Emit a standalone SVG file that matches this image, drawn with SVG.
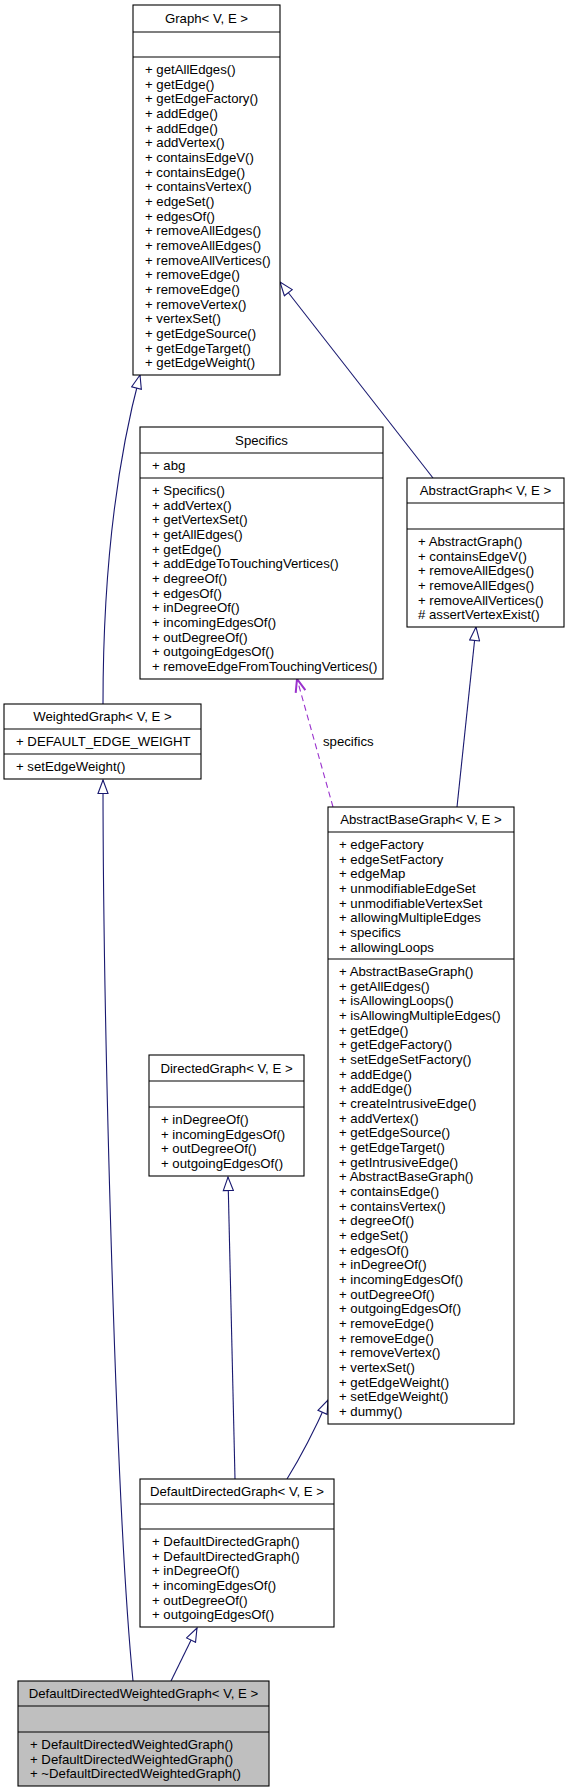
<svg xmlns="http://www.w3.org/2000/svg" width="568" height="1792" viewBox="0 0 568 1792">
<style>
  text { font-family: "Liberation Sans", Arial, sans-serif; font-size: 13.2px; fill: #000; }
  .t { text-anchor: middle; }
  .box { fill: #fff; stroke: #000; stroke-width: 1.1; }
  .cur { fill: #bfbfbf; stroke: #000; stroke-width: 1.1; }
  .sep { stroke: #000; stroke-width: 1.1; }
  .inh { fill: none; stroke: #191970; stroke-width: 1.1; marker-end: url(#tri); }
  .use { fill: none; stroke: #9a32cd; stroke-width: 1.1; stroke-dasharray: 6,4; marker-end: url(#vee); }
</style>
<defs>
  <marker id="tri" markerUnits="userSpaceOnUse" viewBox="-1 -1 16 12" markerWidth="16" markerHeight="12" refX="13.5" refY="5" orient="auto">
    <path d="M0,0 L13.5,5 L0,10 Z" fill="#fff" stroke="#191970" stroke-width="1.1"/>
  </marker>
  <marker id="vee" markerUnits="userSpaceOnUse" viewBox="-2 -2 18 14" markerWidth="18" markerHeight="14" refX="13" refY="5" orient="auto">
    <path d="M0,0 L13,5 L0,10" fill="none" stroke="#9a32cd" stroke-width="2"/>
  </marker>
</defs>

<g id="connectors">
  <path class="inh" d="M103,704 C103,600 112,480 140,375"/>
  <path class="inh" d="M433,478 L280,282"/>
  <path class="inh" d="M457,807 L476,627"/>
  <path class="use" d="M333,807 L297,679"/>
  <text x="323" y="746">specifics</text>
  <path class="inh" d="M287,1479 Q308,1445 328,1400"/>
  <path class="inh" d="M235,1479 L228,1177"/>
  <path class="inh" d="M171,1681 L197,1628"/>
  <path class="inh" d="M133,1681 C115,1500 103,1000 103,780"/>
</g>

<g id="Graph">
  <rect class="box" x="133" y="5" width="147" height="370"/>
  <line class="sep" x1="133" y1="32" x2="280" y2="32"/>
  <line class="sep" x1="133" y1="57" x2="280" y2="57"/>
  <text class="t" x="206.5" y="23.1">Graph&lt; V, E &gt;</text>
  <text x="145" y="59.2">
    <tspan x="145" dy="14.67">+ getAllEdges()</tspan>
    <tspan x="145" dy="14.67">+ getEdge()</tspan>
    <tspan x="145" dy="14.67">+ getEdgeFactory()</tspan>
    <tspan x="145" dy="14.67">+ addEdge()</tspan>
    <tspan x="145" dy="14.67">+ addEdge()</tspan>
    <tspan x="145" dy="14.67">+ addVertex()</tspan>
    <tspan x="145" dy="14.67">+ containsEdgeV()</tspan>
    <tspan x="145" dy="14.67">+ containsEdge()</tspan>
    <tspan x="145" dy="14.67">+ containsVertex()</tspan>
    <tspan x="145" dy="14.67">+ edgeSet()</tspan>
    <tspan x="145" dy="14.67">+ edgesOf()</tspan>
    <tspan x="145" dy="14.67">+ removeAllEdges()</tspan>
    <tspan x="145" dy="14.67">+ removeAllEdges()</tspan>
    <tspan x="145" dy="14.67">+ removeAllVertices()</tspan>
    <tspan x="145" dy="14.67">+ removeEdge()</tspan>
    <tspan x="145" dy="14.67">+ removeEdge()</tspan>
    <tspan x="145" dy="14.67">+ removeVertex()</tspan>
    <tspan x="145" dy="14.67">+ vertexSet()</tspan>
    <tspan x="145" dy="14.67">+ getEdgeSource()</tspan>
    <tspan x="145" dy="14.67">+ getEdgeTarget()</tspan>
    <tspan x="145" dy="14.67">+ getEdgeWeight()</tspan>
  </text>
</g>

<g id="Specifics">
  <rect class="box" x="140" y="427" width="243" height="252"/>
  <line class="sep" x1="140" y1="453" x2="383" y2="453"/>
  <line class="sep" x1="140" y1="478" x2="383" y2="478"/>
  <text class="t" x="261.5" y="444.6">Specifics</text>
  <text x="152" y="470">+ abg</text>
  <text x="152" y="480.3">
    <tspan x="152" dy="14.67">+ Specifics()</tspan>
    <tspan x="152" dy="14.67">+ addVertex()</tspan>
    <tspan x="152" dy="14.67">+ getVertexSet()</tspan>
    <tspan x="152" dy="14.67">+ getAllEdges()</tspan>
    <tspan x="152" dy="14.67">+ getEdge()</tspan>
    <tspan x="152" dy="14.67">+ addEdgeToTouchingVertices()</tspan>
    <tspan x="152" dy="14.67">+ degreeOf()</tspan>
    <tspan x="152" dy="14.67">+ edgesOf()</tspan>
    <tspan x="152" dy="14.67">+ inDegreeOf()</tspan>
    <tspan x="152" dy="14.67">+ incomingEdgesOf()</tspan>
    <tspan x="152" dy="14.67">+ outDegreeOf()</tspan>
    <tspan x="152" dy="14.67">+ outgoingEdgesOf()</tspan>
    <tspan x="152" dy="14.67">+ removeEdgeFromTouchingVertices()</tspan>
  </text>
</g>

<g id="AbstractGraph">
  <rect class="box" x="407" y="478" width="157" height="149"/>
  <line class="sep" x1="407" y1="503" x2="564" y2="503"/>
  <line class="sep" x1="407" y1="529" x2="564" y2="529"/>
  <text class="t" x="485.5" y="495.1">AbstractGraph&lt; V, E &gt;</text>
  <text x="418" y="531.2">
    <tspan x="418" dy="14.67">+ AbstractGraph()</tspan>
    <tspan x="418" dy="14.67">+ containsEdgeV()</tspan>
    <tspan x="418" dy="14.67">+ removeAllEdges()</tspan>
    <tspan x="418" dy="14.67">+ removeAllEdges()</tspan>
    <tspan x="418" dy="14.67">+ removeAllVertices()</tspan>
    <tspan x="418" dy="14.67"># assertVertexExist()</tspan>
  </text>
</g>

<g id="WeightedGraph">
  <rect class="box" x="4" y="704" width="197" height="75"/>
  <line class="sep" x1="4" y1="729" x2="201" y2="729"/>
  <line class="sep" x1="4" y1="754" x2="201" y2="754"/>
  <text class="t" x="102.5" y="721.1">WeightedGraph&lt; V, E &gt;</text>
  <text x="16" y="745.9">+ DEFAULT_EDGE_WEIGHT</text>
  <text x="16" y="770.9">+ setEdgeWeight()</text>
</g>

<g id="AbstractBaseGraph">
  <rect class="box" x="328" y="807" width="186" height="617"/>
  <line class="sep" x1="328" y1="832" x2="514" y2="832"/>
  <line class="sep" x1="328" y1="959" x2="514" y2="959"/>
  <text class="t" x="421" y="824.1">AbstractBaseGraph&lt; V, E &gt;</text>
  <text x="339" y="834.2">
    <tspan x="339" dy="14.67">+ edgeFactory</tspan>
    <tspan x="339" dy="14.67">+ edgeSetFactory</tspan>
    <tspan x="339" dy="14.67">+ edgeMap</tspan>
    <tspan x="339" dy="14.67">+ unmodifiableEdgeSet</tspan>
    <tspan x="339" dy="14.67">+ unmodifiableVertexSet</tspan>
    <tspan x="339" dy="14.67">+ allowingMultipleEdges</tspan>
    <tspan x="339" dy="14.67">+ specifics</tspan>
    <tspan x="339" dy="14.67">+ allowingLoops</tspan>
  </text>
  <text x="339" y="961.2">
    <tspan x="339" dy="14.67">+ AbstractBaseGraph()</tspan>
    <tspan x="339" dy="14.67">+ getAllEdges()</tspan>
    <tspan x="339" dy="14.67">+ isAllowingLoops()</tspan>
    <tspan x="339" dy="14.67">+ isAllowingMultipleEdges()</tspan>
    <tspan x="339" dy="14.67">+ getEdge()</tspan>
    <tspan x="339" dy="14.67">+ getEdgeFactory()</tspan>
    <tspan x="339" dy="14.67">+ setEdgeSetFactory()</tspan>
    <tspan x="339" dy="14.67">+ addEdge()</tspan>
    <tspan x="339" dy="14.67">+ addEdge()</tspan>
    <tspan x="339" dy="14.67">+ createIntrusiveEdge()</tspan>
    <tspan x="339" dy="14.67">+ addVertex()</tspan>
    <tspan x="339" dy="14.67">+ getEdgeSource()</tspan>
    <tspan x="339" dy="14.67">+ getEdgeTarget()</tspan>
    <tspan x="339" dy="14.67">+ getIntrusiveEdge()</tspan>
    <tspan x="339" dy="14.67">+ AbstractBaseGraph()</tspan>
    <tspan x="339" dy="14.67">+ containsEdge()</tspan>
    <tspan x="339" dy="14.67">+ containsVertex()</tspan>
    <tspan x="339" dy="14.67">+ degreeOf()</tspan>
    <tspan x="339" dy="14.67">+ edgeSet()</tspan>
    <tspan x="339" dy="14.67">+ edgesOf()</tspan>
    <tspan x="339" dy="14.67">+ inDegreeOf()</tspan>
    <tspan x="339" dy="14.67">+ incomingEdgesOf()</tspan>
    <tspan x="339" dy="14.67">+ outDegreeOf()</tspan>
    <tspan x="339" dy="14.67">+ outgoingEdgesOf()</tspan>
    <tspan x="339" dy="14.67">+ removeEdge()</tspan>
    <tspan x="339" dy="14.67">+ removeEdge()</tspan>
    <tspan x="339" dy="14.67">+ removeVertex()</tspan>
    <tspan x="339" dy="14.67">+ vertexSet()</tspan>
    <tspan x="339" dy="14.67">+ getEdgeWeight()</tspan>
    <tspan x="339" dy="14.67">+ setEdgeWeight()</tspan>
    <tspan x="339" dy="14.67">+ dummy()</tspan>
  </text>
</g>

<g id="DirectedGraph">
  <rect class="box" x="149" y="1055" width="155" height="121"/>
  <line class="sep" x1="149" y1="1081" x2="304" y2="1081"/>
  <line class="sep" x1="149" y1="1107" x2="304" y2="1107"/>
  <text class="t" x="226.5" y="1072.6">DirectedGraph&lt; V, E &gt;</text>
  <text x="161" y="1109.2">
    <tspan x="161" dy="14.67">+ inDegreeOf()</tspan>
    <tspan x="161" dy="14.67">+ incomingEdgesOf()</tspan>
    <tspan x="161" dy="14.67">+ outDegreeOf()</tspan>
    <tspan x="161" dy="14.67">+ outgoingEdgesOf()</tspan>
  </text>
</g>

<g id="DefaultDirectedGraph">
  <rect class="box" x="140" y="1479" width="194" height="148"/>
  <line class="sep" x1="140" y1="1504" x2="334" y2="1504"/>
  <line class="sep" x1="140" y1="1529" x2="334" y2="1529"/>
  <text class="t" x="237" y="1496.1">DefaultDirectedGraph&lt; V, E &gt;</text>
  <text x="152" y="1531.2">
    <tspan x="152" dy="14.67">+ DefaultDirectedGraph()</tspan>
    <tspan x="152" dy="14.67">+ DefaultDirectedGraph()</tspan>
    <tspan x="152" dy="14.67">+ inDegreeOf()</tspan>
    <tspan x="152" dy="14.67">+ incomingEdgesOf()</tspan>
    <tspan x="152" dy="14.67">+ outDegreeOf()</tspan>
    <tspan x="152" dy="14.67">+ outgoingEdgesOf()</tspan>
  </text>
</g>

<g id="DefaultDirectedWeightedGraph">
  <rect class="cur" x="18" y="1681" width="251" height="105"/>
  <line class="sep" x1="18" y1="1706" x2="269" y2="1706"/>
  <line class="sep" x1="18" y1="1732" x2="269" y2="1732"/>
  <text class="t" x="143.5" y="1698.1">DefaultDirectedWeightedGraph&lt; V, E &gt;</text>
  <text x="30" y="1734.2">
    <tspan x="30" dy="14.67">+ DefaultDirectedWeightedGraph()</tspan>
    <tspan x="30" dy="14.67">+ DefaultDirectedWeightedGraph()</tspan>
    <tspan x="30" dy="14.67">+ ~DefaultDirectedWeightedGraph()</tspan>
  </text>
</g>
</svg>
